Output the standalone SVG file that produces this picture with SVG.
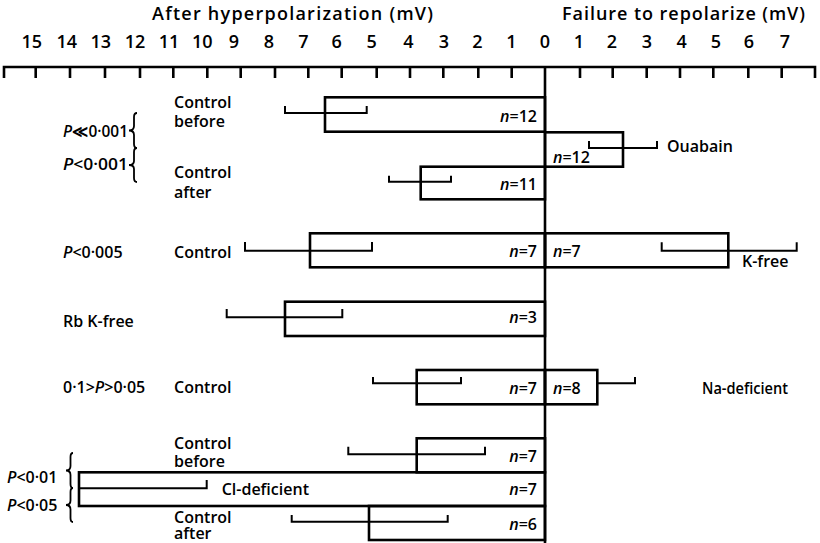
<svg xmlns="http://www.w3.org/2000/svg" width="820" height="543" viewBox="0 0 820 543">
<style>
text{font-family:"Open Sans",Lato,"Liberation Sans",sans-serif;font-size:16px;font-weight:600;fill:#000}
.t{font-size:18px}
.num{font-size:18px;text-anchor:middle}
.it{font-style:italic}
.r{text-anchor:end}
.bar{fill:none;stroke:#000;stroke-width:2.6}
.err{fill:none;stroke:#000;stroke-width:2}
.ax{fill:none;stroke:#000;stroke-width:2.6}
.br{fill:none;stroke:#000;stroke-width:1.8}
</style>
<rect width="820" height="543" fill="#fff"/>
<g id="axis">
<text class="t" x="152" y="20" textLength="281" lengthAdjust="spacing">After hyperpolarization (mV)</text>
<text class="t" x="562" y="20" textLength="243" lengthAdjust="spacing">Failure to repolarize (mV)</text>
<path class="ax" d="M4,78 V67 H815 V78"/>
<path class="ax" d="M35.7,67V78M70,67V78M105,67V78M140,67V78M173.3,67V78M207.3,67V78M240.7,67V78M275,67V78M308.3,67V78M341.7,67V78M376.7,67V78M410,67V78M443.3,67V78M478.3,67V78M511.7,67V78M580,67V78M612.7,67V78M646.7,67V78M680,67V78M713.3,67V78M748.3,67V78M781.7,67V78"/>
<path class="ax" d="M545,66V543"/>
<text class="num" x="31.7" y="48">15</text>
<text class="num" x="66.7" y="48">14</text>
<text class="num" x="100.7" y="48">13</text>
<text class="num" x="135" y="48">12</text>
<text class="num" x="169" y="48">11</text>
<text class="num" x="202.3" y="48">10</text>
<text class="num" x="234" y="48">9</text>
<text class="num" x="269" y="48">8</text>
<text class="num" x="303.3" y="48">7</text>
<text class="num" x="336.7" y="48">6</text>
<text class="num" x="371.7" y="48">5</text>
<text class="num" x="408.3" y="48">4</text>
<text class="num" x="444" y="48">3</text>
<text class="num" x="477.5" y="48">2</text>
<text class="num" x="511.5" y="48">1</text>
<text class="num" x="545" y="48">0</text>
<text class="num" x="579" y="48">1</text>
<text class="num" x="612" y="48">2</text>
<text class="num" x="647" y="48">3</text>
<text class="num" x="681.7" y="48">4</text>
<text class="num" x="715.8" y="48">5</text>
<text class="num" x="749" y="48">6</text>
<text class="num" x="785" y="48">7</text>
</g>
<g id="ouabain-group">
<text x="63" y="136.7" textLength="65" lengthAdjust="spacingAndGlyphs"><tspan class="it">P</tspan>≪0·001</text>
<text x="63" y="170" textLength="65" lengthAdjust="spacingAndGlyphs"><tspan class="it">P</tspan>&lt;0·001</text>
<path class="br" d="M137,113 Q134,113 134,117 V126 Q134,130.5 129,130.5 Q134,130.5 134,135 V144 Q134,148 137,148"/>
<path class="br" d="M137,148 Q134,148 134,152 V161 Q134,165 129,165 Q134,165 134,169 V178 Q134,182 137,182"/>
</g>
<g id="control-before-1">
<text x="174" y="107.5">Control<tspan x="174" dy="19.5">before</tspan></text>
<rect class="bar" x="325" y="97.3" width="220" height="34.4"/>
<path class="err" d="M285,106 V113 H366.7 V106"/>
<text class="r" x="537" y="121.7"><tspan class="it">n</tspan>=12</text>
</g>
<g id="ouabain">
<rect class="bar" x="545" y="132.3" width="78" height="34.4"/>
<path class="err" d="M589,141 V148 H657 V141"/>
<text x="553" y="162.7"><tspan class="it">n</tspan>=12</text>
<text x="667" y="151.7">Ouabain</text>
</g>
<g id="control-after-1">
<text x="174" y="178">Control<tspan x="174" dy="19.5">after</tspan></text>
<rect class="bar" x="420.7" y="166.7" width="124.3" height="32.6"/>
<path class="err" d="M389,175.7 V181.7 H451 V175.7"/>
<text class="r" x="537" y="190"><tspan class="it">n</tspan>=11</text>
</g>
<g id="control-kfree">
<text x="63" y="257.7"><tspan class="it">P</tspan>&lt;0·005</text>
<text x="174" y="257.7">Control</text>
<rect class="bar" x="310" y="233.3" width="235" height="34"/>
<path class="err" d="M245,242 V250.7 H372 V242"/>
<text class="r" x="537" y="256.7"><tspan class="it">n</tspan>=7</text>
</g>
<g id="kfree">
<rect class="bar" x="545" y="233.3" width="183.3" height="34"/>
<path class="err" d="M661.7,242.3 V250.7 H796.7 V242.3"/>
<text x="553" y="256.7"><tspan class="it">n</tspan>=7</text>
<text x="742" y="266.7">K-free</text>
</g>
<g id="rb-kfree">
<text x="63" y="326.7">Rb K-free</text>
<rect class="bar" x="285" y="301.7" width="260" height="34.3"/>
<path class="err" d="M226.7,309 V317.3 H342.3 V309"/>
<text class="r" x="537" y="323.3"><tspan class="it">n</tspan>=3</text>
</g>
<g id="control-na">
<text x="63" y="393.3">0·1&gt;<tspan class="it">P</tspan>&gt;0·05</text>
<text x="174" y="393.3">Control</text>
<rect class="bar" x="416.7" y="370" width="128.3" height="34.3"/>
<path class="err" d="M373,377 V383.3 H461 V377"/>
<text class="r" x="537" y="394"><tspan class="it">n</tspan>=7</text>
</g>
<g id="na-deficient">
<rect class="bar" x="545" y="370" width="52.3" height="34.3"/>
<path class="err" d="M597.3,383.3 H635 V377"/>
<text x="553" y="394"><tspan class="it">n</tspan>=8</text>
<text x="702" y="394" textLength="86" lengthAdjust="spacingAndGlyphs">Na-deficient</text>
</g>
<g id="cl-group">
<text x="7" y="483.3"><tspan class="it">P</tspan>&lt;0·01</text>
<text x="7" y="510.7"><tspan class="it">P</tspan>&lt;0·05</text>
<path class="br" d="M73,453 Q70.5,453 70.5,457 V466 Q70.5,470.5 66,470.5 Q70.5,470.5 70.5,475 V484 Q70.5,488 73,488"/>
<path class="br" d="M73,488 Q70.5,488 70.5,492 V500.5 Q70.5,505 66,505 Q70.5,505 70.5,509.5 V518 Q70.5,522 73,522"/>
</g>
<g id="control-before-2">
<text x="174" y="449">Control<tspan x="174" dy="17.5">before</tspan></text>
<rect class="bar" x="416.7" y="438.3" width="128.3" height="34"/>
<path class="err" d="M348.3,446.7 V454.3 H485 V446.7"/>
<text class="r" x="537" y="462.3"><tspan class="it">n</tspan>=7</text>
</g>
<g id="cl-deficient">
<rect class="bar" x="79" y="472.3" width="466" height="33.7"/>
<path class="err" d="M79,488.3 H206.7 V480"/>
<text x="221.7" y="495">Cl-deficient</text>
<text class="r" x="537" y="495"><tspan class="it">n</tspan>=7</text>
</g>
<g id="control-after-2">
<text x="174" y="523">Control<tspan x="174" dy="16">after</tspan></text>
<rect class="bar" x="369" y="506" width="176" height="34"/>
<path class="err" d="M291.7,515 V521.7 H447.7 V515"/>
<text class="r" x="537" y="530"><tspan class="it">n</tspan>=6</text>
</g>
</svg>
